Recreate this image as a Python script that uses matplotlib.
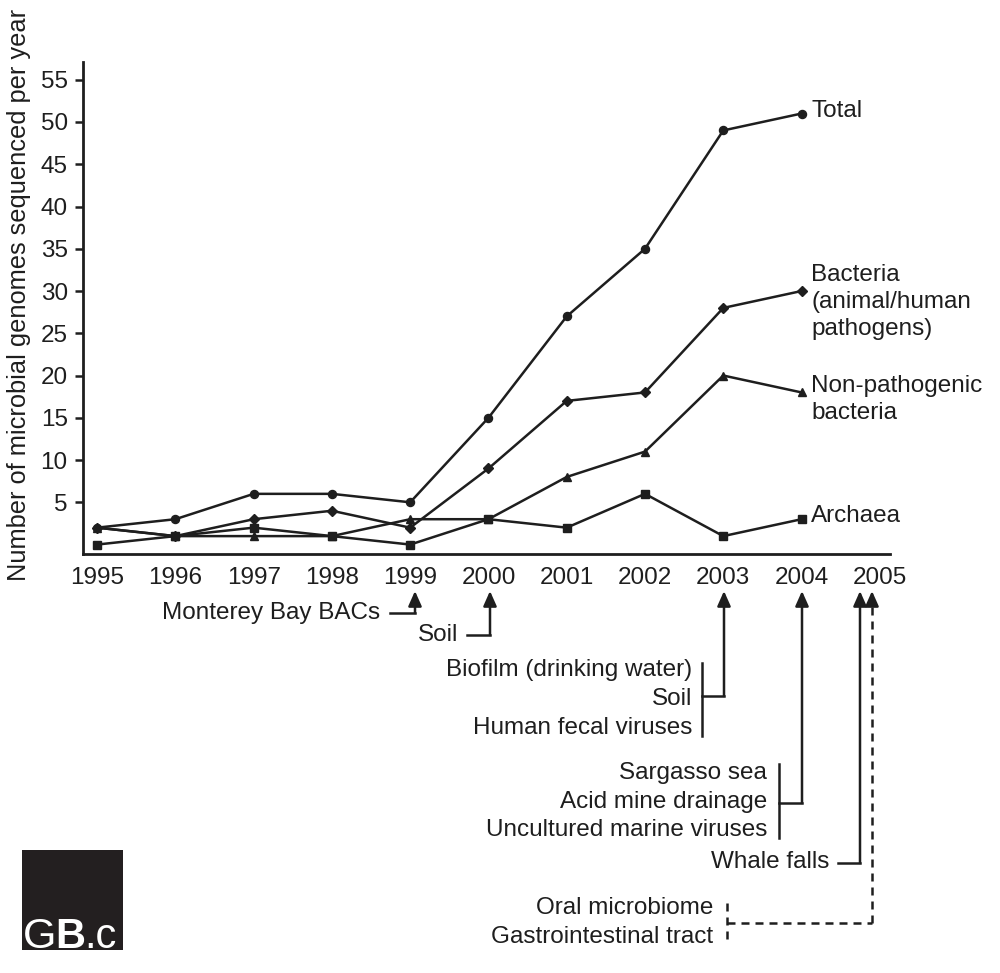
import matplotlib
matplotlib.use('Agg')
import matplotlib.pyplot as plt
from matplotlib.patches import Rectangle

plt.rcParams['font.family'] = ['Liberation Sans', 'DejaVu Sans']

# data
years = [1995, 1996, 1997, 1998, 1999, 2000, 2001, 2002, 2003, 2004]
total = [2, 3, 6, 6, 5, 15, 27, 35, 49, 51]
bacteria = [2, 1, 3, 4, 2, 9, 17, 18, 28, 30]
non_path = [2, 1, 1, 1, 3, 3, 8, 11, 20, 18]
archaea = [0, 1, 2, 1, 0, 3, 2, 6, 1, 3]

year_ticks = list(range(1995, 2006))
value_ticks = [5, 10, 15, 20, 25, 30, 35, 40, 45, 50, 55]

ink = '#1e1e1e'
fs = 17.5

fig = plt.figure(figsize=(10, 9.73), dpi=100)
ax = fig.add_axes([0.083, 0.4306, 0.807, 0.5057])

series = [
    (total, 'o', 5.8, 'Total', 2),
    (bacteria, 'D', 4.8, 'Bacteria\n(animal/human\npathogens)', -8),
    (non_path, '^', 6.2, 'Non-pathogenic\nbacteria', -5),
    (archaea, 's', 5.2, 'Archaea', 2),
]
for vals, mk, ms, name, dy in series:
    ax.plot(years, vals, color=ink, lw=1.8, marker=mk, markersize=ms,
            clip_on=False, zorder=3)
    ax.annotate(name, xy=(years[-1], vals[-1]), xytext=(7, dy),
                textcoords='offset points', ha='left', va='center',
                fontsize=fs, color=ink, linespacing=1.3,
                annotation_clip=False)

ax.set_xlim(1994.82, 2005.13)
ax.set_ylim(-1.12, 57.1)
ax.set_xticks(year_ticks)
ax.set_yticks(value_ticks)
ax.tick_params(axis='x', length=0, pad=9, labelsize=fs, colors=ink)
ax.tick_params(axis='y', length=6, width=1.8, pad=5, labelsize=fs, colors=ink)
for side in ['top', 'right']:
    ax.spines[side].set_visible(False)
for side in ['left', 'bottom']:
    ax.spines[side].set_linewidth(2)
    ax.spines[side].set_color(ink)
ax.set_ylabel('Number of microbial genomes sequenced per year',
              fontsize=18.3, color=ink)
ax.yaxis.set_label_coords(-0.064, 0.526)

# overlay in pixel units for the timeline notes below the axis
ov = fig.add_axes([0, 0, 1, 1])
ov.set_xlim(0, 1000)
ov.set_ylim(973, 0)
ov.axis('off')

lw = 1.8
tip = 591
head = dict(arrowstyle='-|>,head_length=0.45,head_width=0.2',
            mutation_scale=20, color=ink, lw=lw, shrinkA=0, shrinkB=0)


def arrow(x, y0):
    ov.annotate('', xy=(x, tip), xytext=(x, y0), arrowprops=head)


def note(x, y, s):
    ov.text(x, y, s, ha='right', va='center', fontsize=fs, color=ink)


# Monterey Bay BACs -> 1999
arrow(415, 613)
ov.plot([390, 415], [613, 613], color=ink, lw=lw)
note(380, 613, 'Monterey Bay BACs')

# Soil -> 2000
arrow(490, 635)
ov.plot([467, 490], [635, 635], color=ink, lw=lw)
note(458, 635, 'Soil')

# 2003 group
arrow(724, 696)
ov.plot([702, 724], [696, 696], color=ink, lw=lw)
ov.plot([702, 702], [663, 736], color=ink, lw=lw)
note(692, 670, 'Biofilm (drinking water)')
note(692, 699, 'Soil')
note(692, 728, 'Human fecal viruses')

# 2004 group
arrow(802, 803)
ov.plot([779, 802], [803, 803], color=ink, lw=lw)
ov.plot([779, 779], [764, 838], color=ink, lw=lw)
note(767, 773, 'Sargasso sea')
note(767, 802, 'Acid mine drainage')
note(767, 830, 'Uncultured marine viruses')

# Whale falls
arrow(860, 863)
ov.plot([838, 860], [863, 863], color=ink, lw=lw)
note(829, 862, 'Whale falls')

# dashed group (2005)
ov.annotate('', xy=(872, tip), xytext=(872, 604), arrowprops=head)
dash = dict(color=ink, lw=lw, linestyle=(0, (3.2, 2.4)))
ov.plot([872, 872], [923, 604], **dash)
ov.plot([727, 872], [923, 923], **dash)
ov.plot([727, 727], [903, 942], **dash)
note(713, 908, 'Oral microbiome')
note(713, 937, 'Gastrointestinal tract')

# logo
ov.add_patch(Rectangle((22, 850), 101, 100, facecolor='#231f20',
                       edgecolor='none'))
ov.text(23, 948, 'G', color='white', fontsize=31, ha='left', va='baseline')
ov.text(55, 948, 'B', color='white', fontsize=30, ha='left', va='baseline',
        fontweight='bold')
ov.text(84, 948, '.c', color='white', fontsize=30, ha='left', va='baseline')

fig.savefig('out.png', dpi=100)
